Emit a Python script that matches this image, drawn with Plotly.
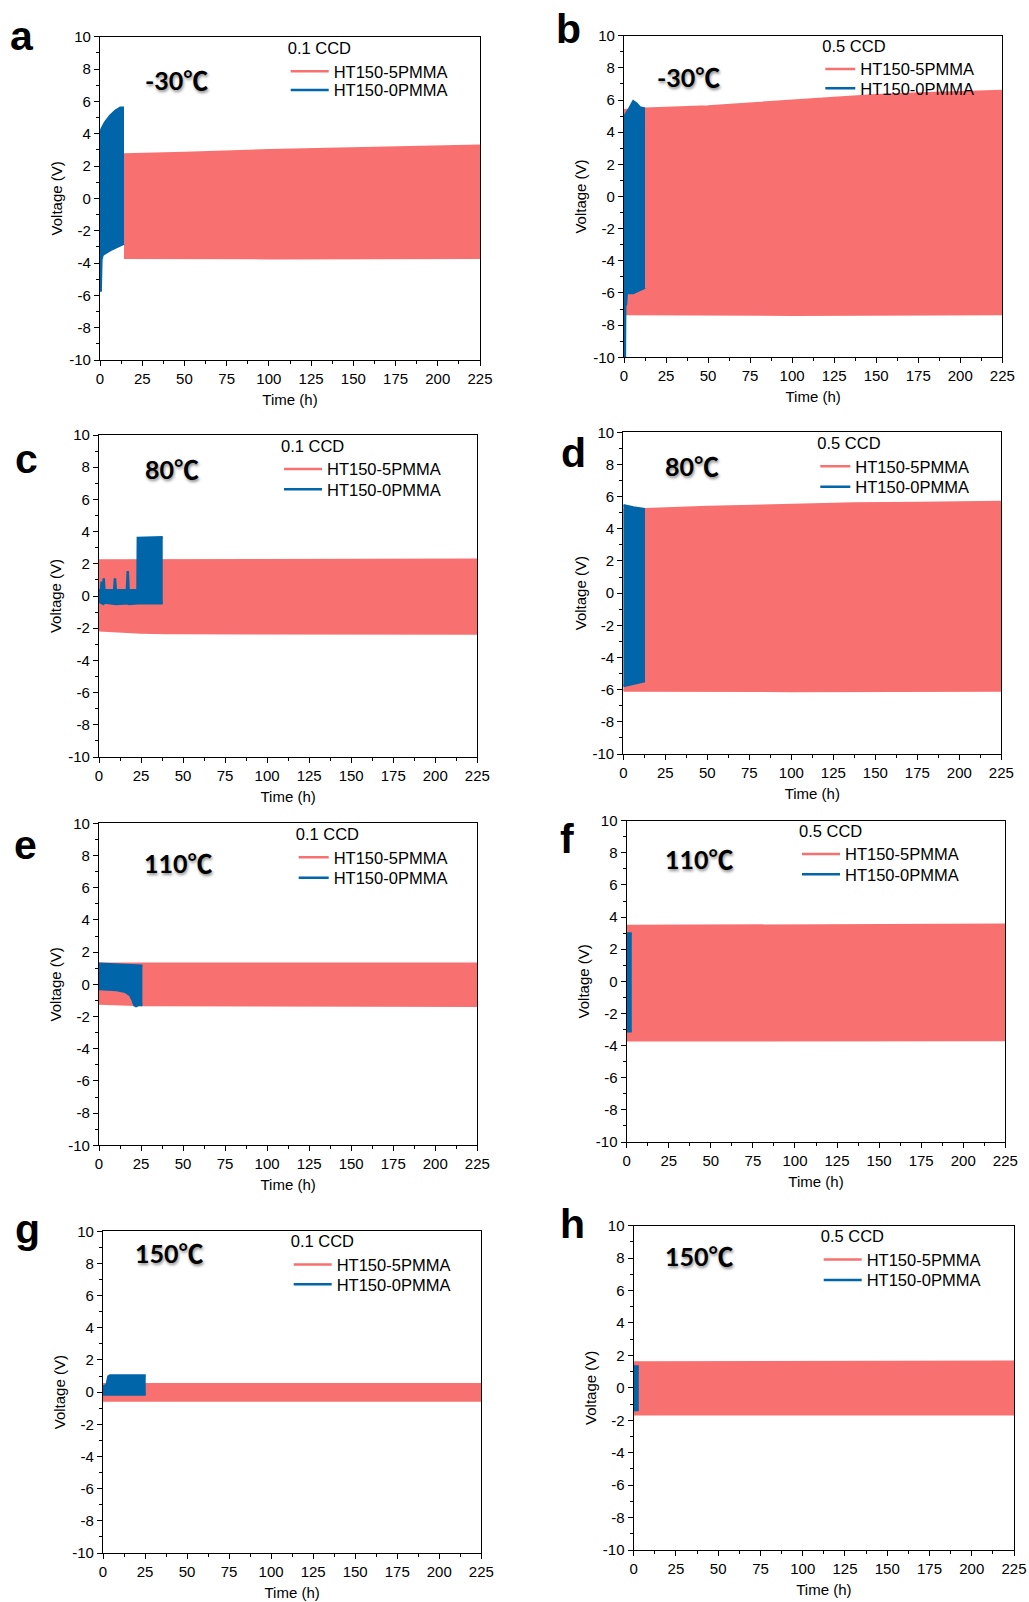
import plotly.graph_objects as go

W, H = 1029, 1602
RED = "#F97070"
BLUE = "#0065A9"
FONT = "Liberation Sans, Arial, sans-serif"

# ---------------- tick labels / categories ----------------
TIME_TICKS = [0, 25, 50, 75, 100, 125, 150, 175, 200, 225]
TIME_TICK_LABELS = ["0", "25", "50", "75", "100", "125", "150", "175", "200", "225"]
VOLT_TICKS = [-10, -8, -6, -4, -2, 0, 2, 4, 6, 8, 10]
VOLT_TICK_LABELS = ["-10", "-8", "-6", "-4", "-2", "0", "2", "4", "6", "8", "10"]

PANEL_LETTERS = ["a", "b", "c", "d", "e", "f", "g", "h"]
TEMPERATURES = ["-30℃", "-30℃", "80℃", "80℃", "110℃", "110℃", "150℃", "150℃"]
CCD_LABELS = ["0.1 CCD", "0.5 CCD", "0.1 CCD", "0.5 CCD", "0.1 CCD", "0.5 CCD", "0.1 CCD", "0.5 CCD"]
SERIES_NAMES = ["HT150-5PMMA", "HT150-0PMMA"]

# ---------------- voltage envelopes (upper / lower edge of the cycling band) ----------------
# panel a  (-30 C, 0.1 CCD)
A_5P_T_HI = [14.2, 50, 100, 150, 200, 225]
A_5P_HI = [2.72, 2.8, 2.97, 3.1, 3.2, 3.26]
A_5P_T_LO = [14.2, 100, 225]
A_5P_LO = [-3.67, -3.7, -3.67]
A_0P_T_HI = [0, 1, 3, 6, 9, 12, 14.2]
A_0P_HI = [4.0, 4.3, 4.7, 5.1, 5.4, 5.6, 5.6]
A_0P_T_LO = [0, 0.4, 0.8, 1.5, 3, 6, 10, 14.2]
A_0P_LO = [-5.7, -5.7, -3.8, -3.5, -3.4, -3.2, -3.0, -2.8]

# panel b  (-30 C, 0.5 CCD)
B_5P_T_HI = [0, 12.5, 50, 100, 118, 150, 176, 225]
B_5P_HI = [5.36, 5.46, 5.6, 5.98, 6.08, 6.29, 6.4, 6.56]
B_5P_T_LO = [0, 100, 225]
B_5P_LO = [-7.3, -7.35, -7.3]
B_0P_T_HI = [0, 2.6, 5.5, 7.5, 9.5, 12.5]
B_0P_HI = [4.95, 5.36, 5.92, 5.77, 5.53, 5.46]
B_0P_T_LO = [0, 0.5, 0.7, 1.2, 1.6, 5.5, 9.5, 12.5]
B_0P_LO = [-10.5, -10.5, -6.8, -6.7, -6.0, -6.0, -5.8, -5.67]

# panel c  (80 C, 0.1 CCD)
C_5P_T_HI = [0, 100, 225]
C_5P_HI = [2.2, 2.22, 2.25]
C_5P_T_LO = [0, 25, 40, 225]
C_5P_LO = [-2.12, -2.27, -2.3, -2.33]
C_0P_T_HI = [0, 1.2, 1.6, 2.0, 2.4, 2.8, 3.2, 9.0, 9.5, 10.0, 16.6, 17.1, 17.6, 22.9, 23.1, 37.9]
C_0P_HI = [0.35, 0.35, 0.9, 0.35, 0.35, 1.1, 0.35, 0.35, 1.1, 0.35, 0.35, 1.55, 0.35, 0.35, 3.6, 3.65]
C_0P_T_LO = [0, 2.5, 3.5, 9, 10, 17, 18, 23, 37.9]
C_0P_LO = [-0.35, -0.5, -0.4, -0.45, -0.5, -0.45, -0.5, -0.45, -0.45]

# panel d  (80 C, 0.5 CCD)
D_5P_T_HI = [0, 12.9, 50.6, 100, 137, 176, 225]
D_5P_HI = [5.2, 5.22, 5.36, 5.5, 5.57, 5.6, 5.67]
D_5P_T_LO = [0, 100, 225]
D_5P_LO = [-6.05, -6.08, -6.05]
D_0P_T_HI = [0, 6, 12.9]
D_0P_HI = [5.46, 5.32, 5.22]
D_0P_T_LO = [0, 12.9]
D_0P_LO = [-5.77, -5.46]

# panel e  (110 C, 0.1 CCD)
E_5P_T_HI = [0, 100, 225]
E_5P_HI = [1.27, 1.27, 1.27]
E_5P_T_LO = [0, 26, 225]
E_5P_LO = [-1.19, -1.29, -1.33]
E_0P_T_HI = [0, 20.4, 25.8]
E_0P_HI = [1.27, 1.17, 1.15]
E_0P_T_LO = [0, 10.5, 15.5, 18.5, 20, 21, 22, 23.4, 25.8]
E_0P_LO = [-0.29, -0.35, -0.46, -0.67, -0.98, -1.29, -1.35, -1.29, -1.29]

# panel f  (110 C, 0.5 CCD)
F_5P_T_HI = [0, 100, 225]
F_5P_HI = [3.44, 3.47, 3.52]
F_5P_T_LO = [0, 225]
F_5P_LO = [-3.67, -3.65]
F_0P_T_HI = [0, 3]
F_0P_HI = [2.98, 2.98]
F_0P_T_LO = [0, 3]
F_0P_LO = [-3.1, -3.1]

# panel g  (150 C, 0.1 CCD)
G_5P_T_HI = [0, 225]
G_5P_HI = [0.49, 0.49]
G_5P_T_LO = [0, 225]
G_5P_LO = [-0.52, -0.52]
G_0P_T_HI = [0, 2.2, 3.2, 4.2, 25.4]
G_0P_HI = [0.35, 0.45, 0.97, 1.03, 1.03]
G_0P_T_LO = [0, 25.4]
G_0P_LO = [-0.14, -0.14]

# panel h  (150 C, 0.5 CCD)
H_5P_T_HI = [0, 225]
H_5P_HI = [1.57, 1.61]
H_5P_T_LO = [0, 225]
H_5P_LO = [-1.63, -1.63]
H_0P_T_HI = [0, 3]
H_0P_HI = [1.32, 1.32]
H_0P_T_LO = [0, 3]
H_0P_LO = [-1.36, -1.36]

PANEL_DATA = [
    ((A_5P_T_HI, A_5P_HI, A_5P_T_LO, A_5P_LO), (A_0P_T_HI, A_0P_HI, A_0P_T_LO, A_0P_LO)),
    ((B_5P_T_HI, B_5P_HI, B_5P_T_LO, B_5P_LO), (B_0P_T_HI, B_0P_HI, B_0P_T_LO, B_0P_LO)),
    ((C_5P_T_HI, C_5P_HI, C_5P_T_LO, C_5P_LO), (C_0P_T_HI, C_0P_HI, C_0P_T_LO, C_0P_LO)),
    ((D_5P_T_HI, D_5P_HI, D_5P_T_LO, D_5P_LO), (D_0P_T_HI, D_0P_HI, D_0P_T_LO, D_0P_LO)),
    ((E_5P_T_HI, E_5P_HI, E_5P_T_LO, E_5P_LO), (E_0P_T_HI, E_0P_HI, E_0P_T_LO, E_0P_LO)),
    ((F_5P_T_HI, F_5P_HI, F_5P_T_LO, F_5P_LO), (F_0P_T_HI, F_0P_HI, F_0P_T_LO, F_0P_LO)),
    ((G_5P_T_HI, G_5P_HI, G_5P_T_LO, G_5P_LO), (G_0P_T_HI, G_0P_HI, G_0P_T_LO, G_0P_LO)),
    ((H_5P_T_HI, H_5P_HI, H_5P_T_LO, H_5P_LO), (H_0P_T_HI, H_0P_HI, H_0P_T_LO, H_0P_LO)),
]

# ---------------- layout geometry (pixels) ----------------
PLOT_BOX = [  # left, right, top, bottom
    (100, 480, 36.7, 360), (624, 1002.3, 35.7, 357.3),
    (99, 477.3, 435, 757), (623.3, 1001.3, 432.3, 754),
    (99, 477.3, 823.3, 1145.3), (626.7, 1005.3, 820.7, 1142),
    (103, 481.3, 1231.3, 1553), (633.7, 1014, 1225.7, 1550),
]
LETTER_POS = [(22, 36), (568.7, 29.3), (26.7, 459.3), (573, 452.7),
              (25.7, 845.3), (566.7, 838.7), (27.5, 1229), (572.5, 1224.3)]
TEMP_POS = [(176.7, 80), (688.7, 76.7), (172.3, 469), (692.3, 466),
            (178.7, 863.3), (699.2, 859.3), (169.3, 1253.3), (699.7, 1256)]
# legend: text start x, title centre y, red row y, blue row y, symbol width
LEGEND_GEOM = [
    (332.7, 50.0, 69.3, 90.0, 38), (859.3, 47.7, 67.7, 88.3, 30),
    (326.0, 447.7, 468.3, 489.3, 38), (854.3, 445.0, 465.7, 486.7, 30),
    (332.7, 836.0, 856.7, 877.7, 30), (844.0, 832.7, 853.3, 874.3, 38),
    (335.7, 1243.3, 1263.3, 1284.3, 38), (865.7, 1238.3, 1259.3, 1280.0, 38),
]


def px_x(v):
    return v / W


def px_y(v):
    return 1 - v / H


fig = go.Figure()
layout = dict(
    template="none",
    width=W, height=H, margin=dict(l=0, r=0, t=0, b=0, autoexpand=False),
    paper_bgcolor="white", plot_bgcolor="white",
    font=dict(family=FONT, size=15, color="black"),
    annotations=[],
)

legend_font = dict(family=FONT, size=16.5, color="black")

for i in range(8):
    n = i + 1
    sfx = "" if n == 1 else str(n)
    xa, ya = "x" + sfx, "y" + sfx
    leg_ids = ["legend" + ("" if 2 * i + 1 == 1 else str(2 * i + 1)), "legend" + str(2 * i + 2)]
    series = PANEL_DATA[i]
    for (t_hi, v_hi, t_lo, v_lo), name, color, leg in zip(series, SERIES_NAMES, [RED, BLUE], leg_ids):
        fig.add_trace(go.Scatter(x=t_hi, y=v_hi, mode="lines", name=name,
                                 line=dict(color=color, width=2.5),
                                 xaxis=xa, yaxis=ya, legend=leg, showlegend=True,
                                 hoverinfo="skip"))
        fig.add_trace(go.Scatter(x=t_lo, y=v_lo, mode="lines", name=name,
                                 line=dict(color=color, width=2.5), fill="tonexty",
                                 fillcolor=color, xaxis=xa, yaxis=ya, legend=leg,
                                 showlegend=False, hoverinfo="skip"))
    l, r, t, b = PLOT_BOX[i]
    axis_common = dict(showline=True, linecolor="black", linewidth=1.3, mirror=True,
                       ticks="outside", ticklen=5, tickwidth=1.3, tickcolor="black",
                       showgrid=False, zeroline=False, automargin=False,
                       tickfont=dict(family=FONT, size=15, color="black"))
    layout["xaxis" + sfx] = dict(
        axis_common, domain=[px_x(l), px_x(r)], anchor=ya, range=[0, 225],
        tickmode="array", tickvals=TIME_TICKS, ticktext=TIME_TICK_LABELS,
        minor=dict(dtick=12.5, tick0=0, ticks="outside", ticklen=3, tickwidth=1.3, tickcolor="black"),
        title=dict(text="Time (h)", font=dict(family=FONT, size=15), standoff=8),
    )
    layout["yaxis" + sfx] = dict(
        axis_common, domain=[px_y(b), px_y(t)], anchor=xa, range=[-10, 10],
        tickmode="array", tickvals=VOLT_TICKS, ticktext=VOLT_TICK_LABELS,
        minor=dict(dtick=1, tick0=0, ticks="outside", ticklen=3, tickwidth=1.3, tickcolor="black"),
        title=dict(text="Voltage (V)", font=dict(family=FONT, size=15), standoff=2),
    )
    text_x, title_y, red_y, blue_y, iw = LEGEND_GEOM[i]
    lx = text_x - iw - 9
    layout[leg_ids[0]] = dict(
        x=px_x(lx), y=px_y(title_y - 17.5), xanchor="left", yanchor="top",
        bgcolor="rgba(0,0,0,0)", borderwidth=0, itemwidth=iw,
        font=legend_font, title=dict(text=CCD_LABELS[i], font=legend_font),
    )
    layout[leg_ids[1]] = dict(
        x=px_x(lx), y=px_y(blue_y - 17.2), xanchor="left", yanchor="top",
        bgcolor="rgba(0,0,0,0)", borderwidth=0, itemwidth=iw,
        font=legend_font,
    )
    layout["annotations"].append(dict(
        text=PANEL_LETTERS[i], xref="paper", yref="paper",
        x=px_x(LETTER_POS[i][0]), y=px_y(LETTER_POS[i][1]),
        xanchor="center", yanchor="middle", showarrow=False,
        font=dict(family=FONT, size=41, color="black", weight="bold"),
    ))
    tx, ty = TEMP_POS[i]
    layout["annotations"].append(dict(
        text=TEMPERATURES[i], xref="paper", yref="paper",
        x=px_x(tx), y=px_y(ty), xanchor="center", yanchor="middle", showarrow=False,
        font=dict(family="Lato, Noto Sans CJK SC, sans-serif", size=25, color="black",
                  weight="bold", shadow="1px 2px 3px rgba(0,0,0,0.45)"),
    ))

fig.update_layout(**layout)
fig.write_html("out.html")
